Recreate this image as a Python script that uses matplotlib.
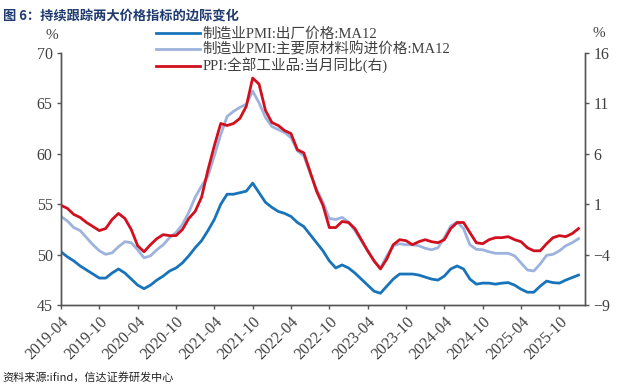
import matplotlib
matplotlib.use('Agg')
import matplotlib.pyplot as plt

# Données, mensuelles de 2019-04 à 2026-01
pmi_sortie = [50.3, 49.8, 49.4, 48.9, 48.5, 48.1, 47.7, 47.7, 48.2, 48.6, 48.2, 47.6,
              47.0, 46.65, 47.0, 47.5, 47.9, 48.4, 48.7, 49.2, 49.9, 50.7, 51.4, 52.4,
              53.5, 55.0, 56.0, 56.0, 56.15, 56.3, 57.1, 56.15, 55.2, 54.7, 54.3, 54.1,
              53.8, 53.2, 52.8, 52.0, 51.2, 50.4, 49.4, 48.7, 49.0, 48.7, 48.2, 47.6,
              47.0, 46.4, 46.2, 46.9, 47.6, 48.1, 48.1, 48.1, 48.0, 47.8, 47.6, 47.5,
              47.9, 48.6, 48.9, 48.6, 47.6, 47.1, 47.2, 47.2, 47.1, 47.2, 47.25, 47.0,
              46.6, 46.3, 46.3, 46.9, 47.4, 47.25, 47.2, 47.5, 47.75, 48.0]
pmi_achat = [53.8, 53.35, 52.7, 52.4, 51.7, 51.0, 50.4, 50.05, 50.2, 50.8, 51.3, 51.2,
             50.5, 49.7, 49.9, 50.5, 51.0, 51.7, 52.2, 53.0, 54.2, 55.7, 56.8, 57.8,
             59.8, 61.9, 63.7, 64.2, 64.6, 64.9, 66.2, 65.05, 63.6, 62.7, 62.4, 62.1,
             61.6, 60.3, 59.8, 58.1, 56.5, 55.2, 53.6, 53.5, 53.7, 53.25, 52.4, 51.4,
             50.4, 49.4, 48.7, 49.9, 50.9, 51.1, 51.0, 51.0, 50.9, 50.65, 50.5, 50.7,
             51.7, 52.85, 53.25, 52.6, 51.0, 50.55, 50.5, 50.3, 50.15, 50.15, 50.15, 49.9,
             49.2, 48.5, 48.4, 49.1, 49.95, 50.05, 50.4, 50.9, 51.2, 51.6]
ppi = [0.9, 0.6, 0.0, -0.3, -0.8, -1.2, -1.6, -1.4, -0.5, 0.1, -0.4, -1.5,
       -3.1, -3.7, -3.0, -2.4, -2.0, -2.1, -2.1, -1.5, -0.4, 0.3, 1.7, 4.4,
       6.8, 9.0, 8.8, 9.0, 9.5, 10.7, 13.5, 12.9, 10.3, 9.1, 8.8, 8.3,
       8.0, 6.4, 6.1, 4.2, 2.3, 0.9, -1.3, -1.3, -0.7, -0.8, -1.4, -2.5,
       -3.6, -4.6, -5.4, -4.4, -3.0, -2.5, -2.6, -3.0, -2.7, -2.5, -2.7, -2.8,
       -2.5, -1.4, -0.8, -0.8, -1.8, -2.8, -2.9, -2.5, -2.3, -2.3, -2.2, -2.5,
       -2.7, -3.3, -3.6, -3.6, -2.9, -2.3, -2.1, -2.2, -1.9, -1.4]
etiquettes_x = ["2019-04", "2019-10", "2020-04", "2020-10", "2021-04", "2021-10", "2022-04",
                "2022-10", "2023-04", "2023-10", "2024-04", "2024-10", "2025-04", "2025-10"]

plt.rcParams['font.family'] = ['Liberation Serif', 'Noto Sans CJK SC']

mois = list(range(len(ppi)))
gris = '#404040'

fig = plt.figure(figsize=(6.32, 3.88), dpi=100)
ax = fig.add_axes([0.0965, 0.213, 0.829, 0.651])
ax2 = ax.twinx()

l1, = ax.plot(mois, pmi_sortie, color='#1874BA', lw=2.0, label='制造业PMI:出厂价格:MA12')
l2, = ax.plot(mois, pmi_achat, color='#9DB3DD', lw=2.0, label='制造业PMI:主要原材料购进价格:MA12')
l3, = ax2.plot(mois, ppi, color='#D0101E', lw=2.0, label='PPI:全部工业品:当月同比(右)')

ax.set_xlim(0, 82)
ax.set_ylim(45, 70)
ax2.set_ylim(-9, 16)
ax.set_yticks(range(45, 71, 5))
ax2.set_yticks(range(-9, 17, 5))
ax.set_xticks(range(0, 6 * len(etiquettes_x), 6))
ax.set_xticklabels(etiquettes_x, rotation=45, ha='right', rotation_mode='anchor')

for a in (ax, ax2):
    a.spines['top'].set_visible(False)
    for s in ('left', 'right', 'bottom'):
        a.spines[s].set_color('#555555')
        a.spines[s].set_linewidth(1.0)
    a.tick_params(length=3, width=1, color='#555555', labelcolor=gris, labelsize=11.5, pad=3)

fig.text(0.072, 0.9, '%', fontsize=11, color=gris)
fig.text(0.937, 0.905, '%', fontsize=11, color=gris)

leg = ax.legend(handles=[l1, l2, l3], loc='upper left', bbox_to_anchor=(0.236, 0.948),
                bbox_transform=fig.transFigure, frameon=False, fontsize=10.5,
                handlelength=3.0, handletextpad=0.15, labelspacing=0.1, borderpad=0)
for t in leg.get_texts():
    t.set_color(gris)

fig.text(0.004, 0.975, '图 6：持续跟踪两大价格指标的边际变化', fontsize=9.5, weight='bold',
         color='#1F3A6E', family=['Noto Sans CJK SC', 'DejaVu Sans'], va='top')
fig.text(0.004, 0.018, '资料来源:ifind，信达证券研发中心', fontsize=8, style='italic',
         color='#222222', family=['Noto Sans CJK SC', 'DejaVu Sans'])

fig.savefig('out.png', dpi=100)
